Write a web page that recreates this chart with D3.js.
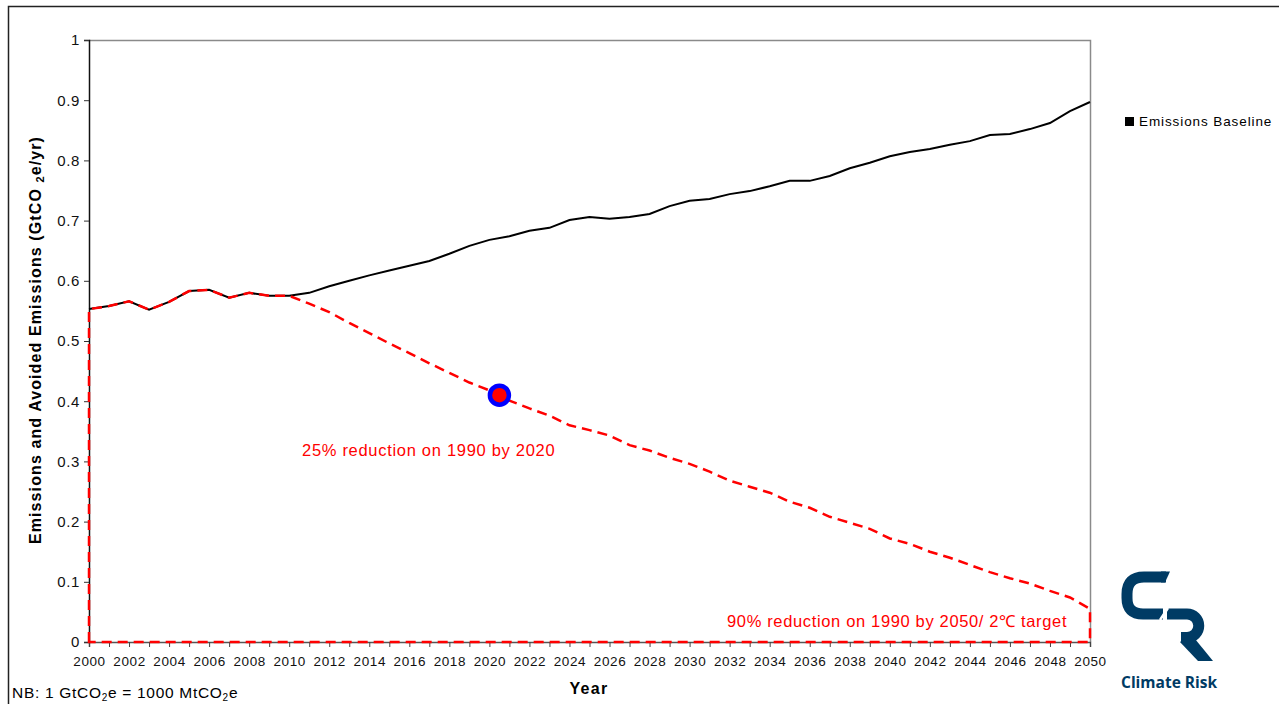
<!DOCTYPE html>
<html>
<head>
<meta charset="utf-8">
<script src="https://cdn.jsdelivr.net/npm/d3@7/dist/d3.min.js"></script>
<style>
  html, body { margin: 0; padding: 0; background: #fff; }
  svg { display: block; font-family: "Liberation Sans", Arial, sans-serif; }
</style>
</head>
<body>
<svg id="chart" width="1279" height="704"></svg>
<script>
// Baseline emissions, GtCO2e per year
const years = d3.range(2000, 2051);
const baseline = [
  0.553, 0.558, 0.566, 0.552, 0.565, 0.583, 0.585, 0.572, 0.580, 0.575,
  0.575, 0.580, 0.591, 0.600, 0.609, 0.617, 0.625, 0.633, 0.645, 0.658,
  0.668, 0.674, 0.683, 0.688, 0.701, 0.706, 0.703, 0.706, 0.711, 0.724,
  0.733, 0.736, 0.744, 0.749, 0.757, 0.766, 0.766, 0.774, 0.787, 0.796,
  0.807, 0.814, 0.819, 0.826, 0.832, 0.842, 0.844, 0.852, 0.862, 0.882,
  0.897
];
// Reduction pathway from 2010 to 2050
const pathYears = d3.range(2010, 2051);
const pathway = [
  0.575, 0.562, 0.548, 0.530, 0.513, 0.496, 0.480, 0.463, 0.447, 0.431,
  0.418, 0.401, 0.388, 0.376, 0.360, 0.352, 0.343, 0.327, 0.318, 0.306,
  0.296, 0.283, 0.268, 0.258, 0.248, 0.233, 0.223, 0.208, 0.198, 0.188,
  0.172, 0.163, 0.150, 0.140, 0.128, 0.116, 0.106, 0.097, 0.085, 0.074,
  0.055
];
// 2020 target point
const target2020 = { year: 2020.5, value: 0.41 };
const yTicks = [0, 0.1, 0.2, 0.3, 0.4, 0.5, 0.6, 0.7, 0.8, 0.9, 1];
const xTickLabels = d3.range(2000, 2051, 2);

const svg = d3.select("#chart");
const x = d3.scaleLinear().domain([2000, 2050]).range([89, 1090]);
const y = d3.scaleLinear().domain([0, 1]).range([642, 40]);

// Outer frame
svg.append("path")
  .attr("d", "M8.5,704 L8.5,6.5 L1279,6.5")
  .attr("fill", "none").attr("stroke", "#222").attr("stroke-width", 1.5);

// Plot frame (top and right)
svg.append("path")
  .attr("d", `M${x(2000)},${y(1)+0.5} L${x(2050)+0.5},${y(1)+0.5} L${x(2050)+0.5},${y(0)}`)
  .attr("fill", "none").attr("stroke", "#8a8a8a").attr("stroke-width", 1.5);

// Y axis
const yAxis = svg.append("g")
  .attr("transform", `translate(${x(2000)},0)`)
  .call(d3.axisLeft(y).tickValues(yTicks).tickSize(5).tickPadding(4)
    .tickFormat(d => d === 0 ? "0" : d === 1 ? "1" : d3.format(".1f")(d)));
yAxis.select(".domain").attr("stroke", "#111").attr("stroke-width", 1.5);
yAxis.selectAll(".tick line").attr("stroke", "#333");
yAxis.selectAll("text").attr("font-size", 15).attr("letter-spacing", 0.6).attr("fill", "#111");

// X axis
const xAxis = svg.append("g")
  .attr("transform", `translate(0,${y(0)})`)
  .call(d3.axisBottom(x).tickValues(years).tickSize(5).tickPadding(9)
    .tickFormat(d => xTickLabels.includes(d) ? String(d) : ""));
xAxis.select(".domain").attr("stroke", "#555").attr("stroke-width", 1.5);
xAxis.selectAll(".tick line").attr("stroke", "#444");
xAxis.selectAll("text").attr("font-size", 13.5).attr("letter-spacing", 0.6).attr("fill", "#111");

// Baseline line
const line = d3.line().x((d, i) => x(years[i])).y(d => y(d));
svg.append("path")
  .datum(baseline)
  .attr("d", line)
  .attr("fill", "none").attr("stroke", "#000").attr("stroke-width", 2);

// Avoided-emissions outline: up the 2000 edge, along history, down the pathway, closed along zero
const outline = [[2000, 0]]
  .concat(years.filter(yr => yr <= 2010).map((yr, i) => [yr, baseline[i]]))
  .concat(pathYears.slice(1).map((yr, i) => [yr, pathway[i + 1]]))
  .concat([[2050, 0]]);
svg.append("path")
  .attr("d", d3.line().x(d => x(d[0])).y(d => y(d[1]))(outline) + "Z")
  .attr("fill", "none").attr("stroke", "#ff0000").attr("stroke-width", 2.5)
  .attr("stroke-dasharray", "10,6");

// 2020 target marker
svg.append("circle")
  .attr("cx", x(target2020.year)).attr("cy", y(target2020.value)).attr("r", 9.5)
  .attr("fill", "#ff0000").attr("stroke", "#0000ff").attr("stroke-width", 4.5);

// Annotations
svg.append("text").attr("x", 302).attr("y", 456)
  .attr("font-size", 16.5).attr("letter-spacing", 0.7).attr("fill", "#ff0000")
  .text("25% reduction on 1990 by 2020");
svg.append("text").attr("x", 727).attr("y", 627)
  .attr("font-size", 16.5).attr("letter-spacing", 0.65).attr("fill", "#ff0000")
  .text("90% reduction on 1990 by 2050/ 2℃ target");

// Axis titles
const yt = svg.append("text")
  .attr("transform", "translate(41,340) rotate(-90)")
  .attr("text-anchor", "middle").attr("font-size", 16).attr("letter-spacing", 1.1)
  .attr("font-weight", "bold").attr("fill", "#000");
yt.append("tspan").text("Emissions and Avoided Emissions (GtCO ");
yt.append("tspan").attr("font-size", 11).attr("dy", 3).text("2");
yt.append("tspan").attr("dy", -3).text("e/yr)");

svg.append("text").attr("x", 589).attr("y", 694)
  .attr("text-anchor", "middle").attr("font-size", 16).attr("letter-spacing", 1.3).attr("font-weight", "bold")
  .text("Year");

// Footnote
const nb = svg.append("text").attr("x", 12).attr("y", 698)
  .attr("font-size", 15.5).attr("letter-spacing", 0.7).attr("fill", "#000");
nb.append("tspan").text("NB: 1 GtCO");
nb.append("tspan").attr("font-size", 10).attr("dy", 3).text("2");
nb.append("tspan").attr("dy", -3).text("e = 1000 MtCO");
nb.append("tspan").attr("font-size", 10).attr("dy", 3).text("2");
nb.append("tspan").attr("dy", -3).text("e");

// Legend
svg.append("rect").attr("x", 1125).attr("y", 117).attr("width", 9).attr("height", 9).attr("fill", "#000");
svg.append("text").attr("x", 1139).attr("y", 126).attr("font-size", 13.5).attr("letter-spacing", 0.9).attr("fill", "#000")
  .text("Emissions Baseline");

// Climate Risk logo
const navy = "#003b64";
const logo = svg.append("g").attr("fill", "none").attr("stroke", navy).attr("stroke-width", 11);
logo.append("path").attr("d", "M1166,577 L1144,577 Q1127,577 1127,594 L1127,598 Q1127,614 1143,614 L1163,614");
logo.append("path").attr("d", "M1167,614 L1187,614 A11.75,11.75 0 0 1 1187,637.5 L1181,637.5");
svg.append("path").attr("d", "M1180,642 L1191,634 L1213,661 L1198,661 Z").attr("fill", navy);
svg.append("path").attr("d", "M1160,620 L1168,608").attr("stroke", "#fff").attr("stroke-width", 2.5);
svg.append("path").attr("d", "M1161,571.5 L1170,571.5 L1165,582.5 L1161,582.5 Z").attr("fill", navy);
svg.append("text").attr("x", 1121).attr("y", 688)
  .attr("font-family", "'Open Sans', 'Noto Sans', sans-serif").attr("font-weight", "bold")
  .attr("font-size", 15.5).attr("fill", navy).text("Climate Risk");
</script>
</body>
</html>
